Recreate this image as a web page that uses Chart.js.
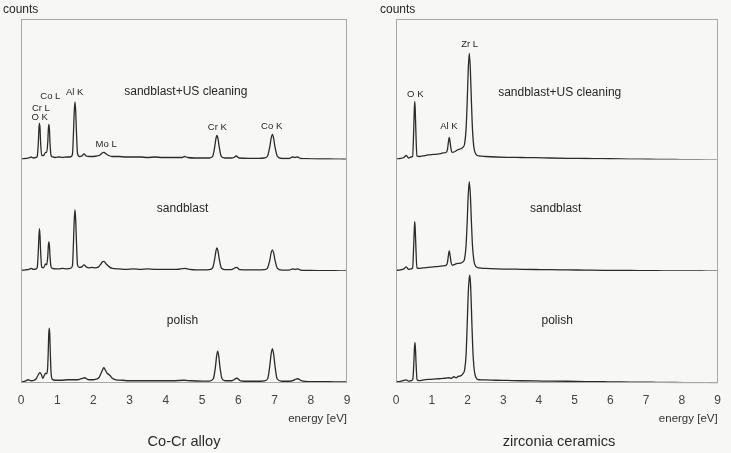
<!DOCTYPE html>
<html>
<head>
<meta charset="utf-8">
<script src="https://cdn.jsdelivr.net/npm/chart.js@4.4.1/dist/chart.umd.min.js"></script>
<style>
html,body{margin:0;padding:0;background:#f7f7f5;}
#wrap{position:relative;width:731px;height:453px;overflow:hidden;}
canvas{position:absolute;top:0;}
#cLeft{left:0;}
#cRight{left:365px;}
</style>
</head>
<body>
<div id="wrap">
  <canvas id="cLeft" width="365" height="453"></canvas>
  <canvas id="cRight" width="366" height="453"></canvas>
</div>
<script>
const FONT = '"Liberation Sans", Arial, sans-serif';

// x ticks (energy, eV)
const energyTicks = [0,1,2,3,4,5,6,7,8,9];

// Co-Cr alloy spectra: [energy eV, counts above baseline]
const coCrUsClean = [
  [0.00,0.5],[0.12,1],[0.22,1.5],[0.28,2.5],[0.34,1.5],[0.42,2],
  [0.45,3.5],[0.48,18],[0.495,31],[0.51,36],[0.525,31],[0.54,18],[0.57,4],
  [0.62,4],[0.68,7],[0.71,7],
  [0.74,18],[0.755,30],[0.77,35],[0.785,30],[0.80,17],[0.83,4],[0.87,2.5],
  [0.95,2],[1.05,2.5],[1.15,2],[1.25,2.5],[1.36,2.5],
  [1.42,5],[1.45,28],[1.47,48],[1.49,57.5],[1.51,48],[1.53,28],[1.56,6],[1.61,3],
  [1.68,3.5],[1.74,5.5],[1.80,3.5],[1.90,3],[2.00,3],[2.10,3.5],
  [2.18,4.5],[2.24,6.5],[2.29,7],[2.35,5.5],[2.42,4],[2.52,3],
  [2.7,3],[2.9,2.5],[3.1,2.5],[3.3,2.5],[3.5,2],[3.7,2.5],[3.9,2],[4.1,2],[4.3,2],[4.45,2],[4.51,3],[4.6,2],[4.8,1.5],[5.0,1.5],[5.2,1.5],
  [5.29,3],[5.35,13],[5.38,20.5],[5.41,24],[5.44,20.5],[5.47,13],[5.53,3],
  [5.62,1.5],[5.8,1.5],[5.88,2],[5.94,3.5],[6.02,1.5],[6.3,1.2],[6.55,1.2],[6.72,1.5],
  [6.80,3],[6.87,13],[6.905,21],[6.94,25],[6.975,21],[7.01,13],[7.08,3],
  [7.2,1],[7.4,1],[7.50,2.5],[7.56,2],[7.63,2.5],[7.72,1],[7.9,0.8],[8.2,0.5],[8.5,0.5],[8.8,0.3],[9.0,0.2]
];
const coCrSandblast = [
  [0.00,0.5],[0.12,1],[0.22,1.5],[0.28,2.5],[0.34,1.5],[0.42,2],
  [0.45,4],[0.48,21],[0.495,35],[0.51,42],[0.525,35],[0.54,21],[0.57,4],
  [0.62,3],[0.68,7],[0.71,6],
  [0.74,15],[0.755,25],[0.77,29],[0.785,25],[0.80,15],[0.83,4],[0.87,2.5],
  [0.95,2],[1.05,2],[1.15,2.5],[1.25,2],[1.36,2.5],
  [1.42,5],[1.45,30],[1.47,51],[1.49,61],[1.51,51],[1.53,30],[1.56,6],[1.61,3.5],
  [1.68,4],[1.74,6],[1.80,4],[1.88,3],[1.95,3.5],[2.05,3],[2.14,4],
  [2.20,6.5],[2.25,9],[2.29,9.5],[2.35,7],[2.42,4.5],[2.52,2.5],
  [2.7,2],[2.9,1.5],[3.1,2],[3.3,1.5],[3.5,2],[3.7,1.5],[3.9,1.5],[4.1,1.5],[4.3,1.5],[4.52,2.5],[4.65,1.5],[4.85,1],[5.05,1],[5.2,1.2],
  [5.29,3],[5.35,12.5],[5.38,19.5],[5.41,23],[5.44,19.5],[5.47,12.5],[5.53,3],
  [5.62,1.2],[5.8,1.2],[5.95,3.5],[6.04,1.2],[6.3,1],[6.55,1],[6.72,1.2],
  [6.80,2.5],[6.87,11],[6.905,18],[6.94,21],[6.975,18],[7.01,11],[7.08,2.5],
  [7.2,0.8],[7.4,0.8],[7.50,2],[7.57,1.5],[7.64,2],[7.72,0.8],[7.9,0.5],[8.2,0.3],[8.5,0.3],[8.8,0],[9.0,0]
];
const coCrPolish = [
  [0.00,0.5],[0.1,1],[0.2,2.5],[0.28,1.5],[0.36,2],[0.42,3.5],[0.47,7],[0.52,9.5],[0.56,8],[0.60,4],[0.64,6.5],[0.68,9],[0.71,8.5],
  [0.735,14],[0.75,28],[0.765,47],[0.78,54],[0.795,47],[0.81,28],[0.83,10],[0.86,3],
  [0.95,2],[1.1,2],[1.3,2.5],[1.5,2.5],[1.62,3],[1.70,4],[1.76,4.5],[1.83,3],[1.95,2.5],[2.05,3],[2.15,4.5],
  [2.21,9],[2.26,13],[2.29,14.5],[2.33,12],[2.38,9],[2.45,7],[2.52,4],[2.62,2.5],[2.8,2],
  [3.0,1.5],[3.3,1.5],[3.6,1.5],[3.9,1.5],[4.2,1.5],[4.5,2],[4.7,1.5],[5.0,1.2],[5.2,1.2],
  [5.31,3.5],[5.37,16],[5.40,26],[5.43,31],[5.46,26],[5.49,16],[5.55,3.5],
  [5.64,1.5],[5.82,1.5],[5.96,4],[6.06,1.5],[6.3,1],[6.55,1],[6.72,1.5],
  [6.81,3.5],[6.87,17],[6.905,28],[6.94,33.5],[6.975,28],[7.01,17],[7.07,3.5],
  [7.2,1],[7.4,1],[7.52,1.8],[7.58,3],[7.64,3.5],[7.72,2],[7.85,0.8],[8.1,0.5],[8.5,0.5],[8.8,0.3],[9.0,0.3]
];

// zirconia ceramics spectra
const zrUsClean = [
  [0.00,0.5],[0.12,1],[0.22,2],[0.29,4],[0.35,1.5],[0.42,2.5],
  [0.465,3],[0.495,29],[0.511,49],[0.525,58],[0.539,49],[0.555,29],[0.585,3.5],
  [0.65,3],[0.75,3.5],[0.9,4.5],[1.05,5],[1.2,5.5],[1.32,6.5],[1.40,7],
  [1.44,10],[1.465,17],[1.49,22],[1.515,17],[1.54,10],[1.58,7],
  [1.65,8],[1.72,9.5],[1.81,10.7],[1.87,12],[1.92,15.7],
  [1.96,30],[1.99,55],[2.02,88],[2.05,105.7],[2.08,90],[2.11,58],[2.14,30],[2.18,12],[2.23,5.7],
  [2.32,3.5],[2.5,3],[2.8,2.5],[3.1,2.2],[3.5,2],[3.9,1.8],[4.3,1.5],[4.8,1.2],[5.3,1],[5.8,0.8],[6.3,0.6],[6.8,0.3],[7.3,0.2],[7.8,0],[8.3,-0.2],[8.7,-0.3],[9.0,-0.5]
];
const zrSandblast = [
  [0.00,0.5],[0.12,1],[0.22,2],[0.29,4],[0.35,1.5],[0.42,2],
  [0.465,3],[0.495,25],[0.511,41],[0.525,49],[0.539,41],[0.555,25],[0.585,3],
  [0.65,2.5],[0.75,3],[0.9,3.5],[1.05,4],[1.2,4.5],[1.32,5],[1.40,5.5],
  [1.44,8.5],[1.465,15],[1.49,20],[1.515,15],[1.54,8.5],[1.58,5.7],
  [1.65,6.5],[1.72,7.5],[1.81,7.7],[1.87,9],[1.92,12.3],
  [1.96,25],[1.99,47],[2.02,75],[2.05,89],[2.08,76],[2.11,49],[2.14,25],[2.18,10],[2.23,4.5],
  [2.32,3],[2.5,2.5],[2.8,2],[3.1,1.8],[3.5,1.6],[3.9,1.4],[4.3,1.2],[4.8,1],[5.3,0.8],[5.8,0.6],[6.3,0.5],[6.8,0.3],[7.3,0.2],[7.8,0],[8.3,0],[8.7,-0.2],[9.0,-0.3]
];
const zrPolish = [
  [0.00,0.3],[0.12,1],[0.22,2],[0.29,2.3],[0.35,1.2],[0.42,1.5],
  [0.47,3],[0.50,20],[0.515,33],[0.53,39.7],[0.545,33],[0.56,20],[0.59,2.5],
  [0.65,1.7],[0.75,2.2],[0.9,2.8],[1.05,3.2],[1.2,3.5],[1.35,4],[1.48,4.5],[1.55,4],[1.62,5.5],[1.68,4.5],[1.75,6],[1.81,6.3],[1.87,8.5],[1.92,12.3],
  [1.96,27],[1.99,55],[2.02,88],[2.05,104],[2.065,106.7],[2.09,95],[2.12,62],[2.15,32],[2.19,12],[2.24,4.5],
  [2.32,2.5],[2.5,2.3],[2.8,2],[3.1,1.8],[3.5,1.5],[3.9,1.3],[4.3,1.2],[4.8,1],[5.3,0.7],[5.8,0.5],[6.3,0.3],[6.8,0.2],[7.3,0],[7.8,-0.2],[8.3,-0.3],[8.7,-0.4],[9.0,-0.5]
];

// in-plot labels: [text, energy, band, counts level, font size]
const coCrLabels = [
  ['sandblast+US cleaning',4.55,'yTop',67.6,12],
  ['Co L',0.81,'yTop',62.6,9.5],
  ['Cr L',0.55,'yTop',51,9.5],
  ['O K',0.516,'yTop',42,9.5],
  ['Al K',1.48,'yTop',67,9.5],
  ['Mo L',2.35,'yTop',15.3,9.5],
  ['Cr K',5.42,'yTop',32.3,9.5],
  ['Co K',6.92,'yTop',32.6,9.5],
  ['sandblast',4.46,'yMid',61.7,12],
  ['polish',4.46,'yBot',61,12]
];
const zrLabels = [
  ['Zr L',2.06,'yTop',114.7,9.5],
  ['O K',0.54,'yTop',65.3,9.5],
  ['Al K',1.48,'yTop',33,9.5],
  ['sandblast+US cleaning',4.58,'yTop',66.7,12],
  ['sandblast',4.47,'yMid',61.7,12],
  ['polish',4.51,'yBot',61,12]
];

const bandAxes = ['yTop','yMid','yBot'];

function panelDeco(labels, countsDx){
  return {
    id:'panelDeco',
    afterDatasetsDraw(chart){
      const {ctx, chartArea:a, scales} = chart;
      ctx.save();
      ctx.strokeStyle = '#a8a8a8';
      ctx.lineWidth = 1;
      ctx.strokeRect(Math.round(a.left)+0.5, Math.round(a.top)+0.5, Math.round(a.right-a.left)-1, Math.round(a.bottom-a.top)-1);
      ctx.fillStyle = '#262626';
      ctx.textAlign = 'center';
      ctx.textBaseline = 'middle';
      labels.forEach(l=>{
        ctx.font = l[4] + 'px ' + FONT;
        ctx.fillText(l[0], scales.x.getPixelForValue(l[1]), scales[l[2]].getPixelForValue(l[3]));
      });
      ctx.textAlign = 'left';
      ctx.font = '12px ' + FONT;
      ctx.fillText('counts', a.left + countsDx, a.top - 9);
      ctx.restore();
    }
  };
}

function makeChart(id, series, labels, title, padL, padR, countsDx){
  new Chart(document.getElementById(id), {
    type:'line',
    data:{
      datasets: series.map((s,i)=>({
        data: s.map(p=>({x:p[0], y:p[1]})),
        yAxisID: bandAxes[i],
        borderColor:'#2b2b2b',
        borderWidth:1.3,
        pointRadius:0,
        cubicInterpolationMode:'monotone',
        fill:false
      }))
    },
    options:{
      responsive:false,
      animation:false,
      layout:{padding:{left:padL, right:padR, top:19, bottom:2}},
      plugins:{
        legend:{display:false},
        tooltip:{enabled:false},
        title:{display:true, text:title, position:'bottom', color:'#2a2a2a',
          font:{family:FONT, size:14.6, weight:'normal'}, padding:{top:8, bottom:0}}
      },
      scales:{
        x:{type:'linear', min:0, max:9,
          grid:{display:false, drawTicks:false}, border:{display:false},
          afterBuildTicks: ax => { ax.ticks = energyTicks.map(v=>({value:v})); },
          ticks:{padding:10, color:'#444', maxRotation:0, font:{family:FONT, size:12}},
          title:{display:true, text:'energy [eV]', align:'end', color:'#333',
            font:{family:FONT, size:11.5}, padding:{top:-6, bottom:0}}},
        // left-side stacked axes are laid out bottom-up, so the lowest band comes first
        yBot:{type:'linear', display:false, position:'left', stack:'bands', stackWeight:112, min:-1, max:111},
        yMid:{type:'linear', display:false, position:'left', stack:'bands', stackWeight:111, min:0, max:111},
        yTop:{type:'linear', display:false, position:'left', stack:'bands', stackWeight:140, min:0, max:140}
      }
    },
    plugins:[panelDeco(labels, countsDx)]
  });
}

makeChart('cLeft', [coCrUsClean, coCrSandblast, coCrPolish], coCrLabels, 'Co-Cr alloy', 21, 18, -18);
makeChart('cRight', [zrUsClean, zrSandblast, zrPolish], zrLabels, 'zirconia ceramics', 31, 9, -16);
</script>
</body>
</html>
